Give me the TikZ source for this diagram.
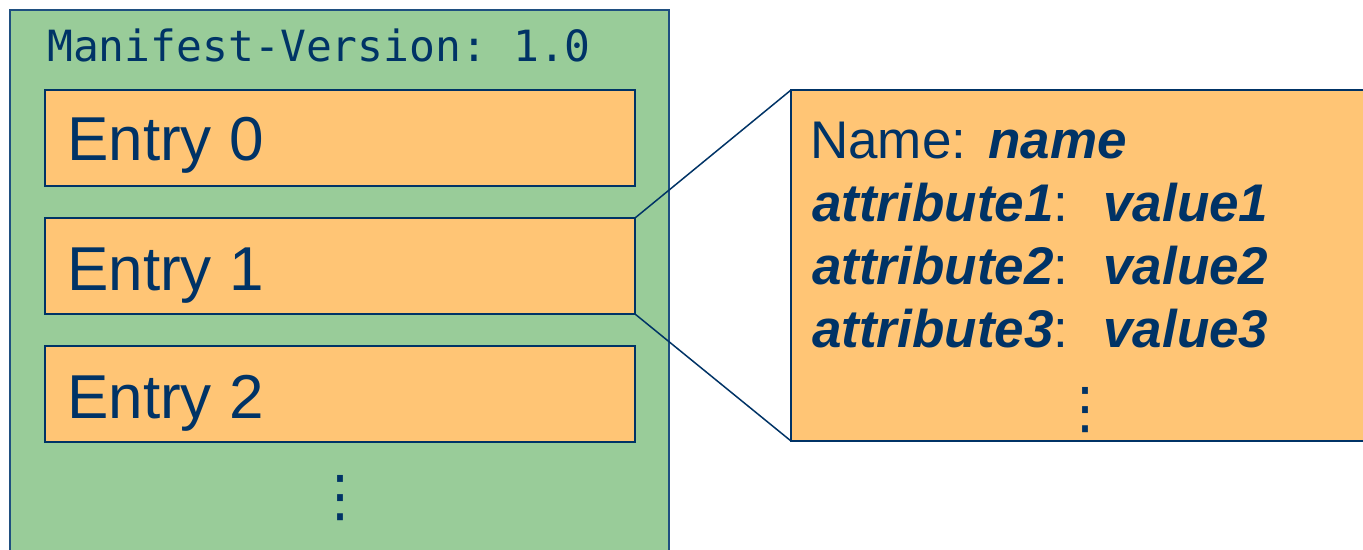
\documentclass[tikz,border=0pt]{standalone}
\usepackage{fontspec}
\setmainfont{Liberation Sans}
\newfontfamily\monofont{DejaVu Sans Mono}
\newfontfamily\symfont{DejaVu Sans}
\definecolor{navy}{HTML}{003366}
\definecolor{greenfill}{HTML}{99CC99}
\definecolor{orangefill}{HTML}{FFC575}
\definecolor{greenborder}{HTML}{1F4F80}
\tikzset{
  manifestbox/.style={draw=greenborder, line width=1.4pt, fill=greenfill, inner sep=0pt, outer sep=0pt, anchor=north west},
  entrybox/.style={draw=navy, line width=2pt, fill=orangefill, inner sep=0pt, outer sep=0pt, anchor=north west},
  txt/.style={anchor=base west, inner sep=0pt, text=navy},
  dotstack/.style={anchor=center, inner sep=0pt, text=navy, font=\symfont\fontsize{56}{56}\selectfont},
  connector/.style={draw=navy, line width=1.5pt}
}
\begin{document}
\begin{tikzpicture}[x=1pt,y=-1pt]
\useasboundingbox (0,0) rectangle (1363,549);
\clip (0,0) rectangle (1363,549);
\fill[white] (0,0) rectangle (1363,549);
% manifest container
\node[manifestbox, minimum width=659pt, minimum height=600pt] (mf) at (10,10) {};
\node[txt, font=\monofont\fontsize{43}{43}\selectfont] (mv) at (47,61) {Manifest-Version:\ 1.0};
% entries
\node[entrybox, minimum width=590pt, minimum height=96pt] (e0) at (45,90) {};
\node[entrybox, minimum width=590pt, minimum height=96pt] (e1) at (45,218) {};
\node[entrybox, minimum width=590pt, minimum height=96pt] (e2) at (45,346) {};
\node[txt, font=\fontsize{62}{62}\selectfont] (t0) at (67,160) {Entry 0};
\node[txt, font=\fontsize{62}{62}\selectfont] (t1) at (67,290) {Entry 1};
\node[txt, font=\fontsize{62}{62}\selectfont] (t2) at (67,418) {Entry 2};
\node[dotstack] (d0) at (340,498) {⋮};
% attribute box
\node[entrybox, minimum width=620pt, minimum height=351pt] (ab) at (791,90) {};
\draw[connector] (e1.north east) -- (ab.north west);
\draw[connector] (e1.south east) -- (ab.south west);
\node[txt, font=\fontsize{53}{53}\selectfont] (l0) at (810,158) {Name:\hspace{22pt}{\bfseries\itshape name}};
\node[txt, font=\fontsize{53}{53}\selectfont] (l1) at (812,221) {{\bfseries\itshape attribute1}:\hspace{35pt}{\bfseries\itshape value1}};
\node[txt, font=\fontsize{53}{53}\selectfont] (l2) at (812,284) {{\bfseries\itshape attribute2}:\hspace{35pt}{\bfseries\itshape value2}};
\node[txt, font=\fontsize{53}{53}\selectfont] (l3) at (812,347) {{\bfseries\itshape attribute3}:\hspace{35pt}{\bfseries\itshape value3}};
\node[dotstack] (d1) at (1085,410) {⋮};
\end{tikzpicture}
\end{document}
